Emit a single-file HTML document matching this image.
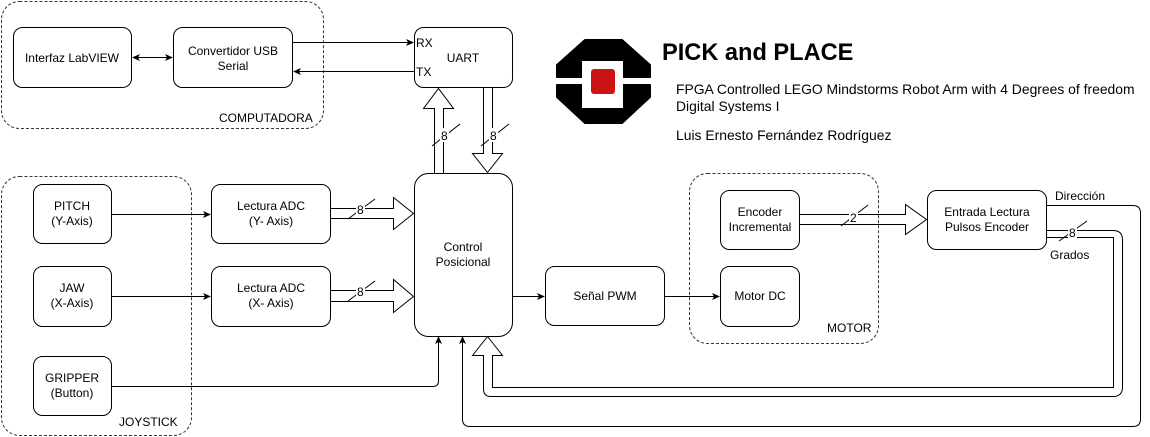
<!DOCTYPE html>
<html><head><meta charset="utf-8"><style>
html,body{margin:0;padding:0;background:#fff;}
svg{display:block;font-family:"Liberation Sans",Arial,sans-serif;}
text{font-size:12px;fill:#000;}
</style></head><body>
<svg width="1150" height="437" viewBox="0 0 1150 437" xmlns="http://www.w3.org/2000/svg">
<defs>
<marker id="a" markerWidth="8" markerHeight="8" refX="7" refY="4" orient="auto" markerUnits="userSpaceOnUse"><path d="M0,0.5 L8,4 L0,7.5 L2,4 Z" fill="#000"/></marker>
<marker id="as" markerWidth="8" markerHeight="8" refX="1" refY="4" orient="auto" markerUnits="userSpaceOnUse"><path d="M8,0.5 L0,4 L8,7.5 L6,4 Z" fill="#000"/></marker>
</defs>
<g fill="none" stroke="#000" stroke-width="1">
<rect x="1.5" y="1.5" width="322" height="127" rx="18" stroke-dasharray="3,2" stroke="#333"/>
<rect x="1.5" y="176.5" width="190" height="259" rx="18" stroke-dasharray="3,2" stroke="#333"/>
<rect x="689.5" y="173.5" width="189" height="170" rx="18" stroke-dasharray="3,2" stroke="#333"/>
<rect x="13.5" y="27.5" width="118" height="60" rx="9"/>
<rect x="173.5" y="27.5" width="119" height="60" rx="9"/>
<rect x="414.5" y="27.5" width="98" height="60" rx="9"/>
<rect x="414.5" y="173.5" width="98" height="163" rx="14"/>
<rect x="33.5" y="184.5" width="78" height="59" rx="9"/>
<rect x="33.5" y="266.5" width="78" height="60" rx="9"/>
<rect x="33.5" y="356.5" width="78" height="59" rx="9"/>
<rect x="211.5" y="184.5" width="119" height="59" rx="9"/>
<rect x="211.5" y="266.5" width="119" height="60" rx="9"/>
<rect x="545.5" y="266.5" width="119" height="59" rx="9"/>
<rect x="720.5" y="190.5" width="79" height="59" rx="9"/>
<rect x="720.5" y="266.5" width="79" height="60" rx="9"/>
<rect x="927.5" y="190.5" width="119" height="59" rx="9"/>
<line x1="133" y1="57.5" x2="172" y2="57.5" marker-end="url(#a)" marker-start="url(#as)"/>
<line x1="293" y1="42.5" x2="413" y2="42.5" marker-end="url(#a)"/>
<line x1="414" y1="71.5" x2="294" y2="71.5" marker-end="url(#a)"/>
<line x1="111" y1="214.5" x2="210" y2="214.5" marker-end="url(#a)"/>
<line x1="111" y1="296.5" x2="210" y2="296.5" marker-end="url(#a)"/>
<line x1="512" y1="296.5" x2="544" y2="296.5" marker-end="url(#a)"/>
<line x1="664" y1="296.5" x2="719" y2="296.5" marker-end="url(#a)"/>
<path d="M111,386.5 H433 Q438.5,386.5 438.5,381 V337" marker-end="url(#a)"/>
<path d="M1046,205.5 H1133 Q1140.5,205.5 1140.5,213 V419 Q1140.5,426.5 1133,426.5 H470 Q462.5,426.5 462.5,419 V337" marker-end="url(#a)"/>
<path d="M434.5,173 V108.5 H423.5 L438.5,88.5 L453.5,108.5 H443.5 V173"/>
<path d="M483.5,88 V153.5 H472.5 L487.5,172.5 L502.5,153.5 H492.5 V88"/>
<path d="M331,208.5 H393.5 V197.5 L413.5,213.5 L393.5,229.5 V218.5 H331"/>
<path d="M331,290.5 H393.5 V279.5 L413.5,296.5 L393.5,312.5 V301.5 H331"/>
<path d="M800,214.5 H905.5 V204.5 L926.5,219.5 L905.5,234.5 V224.5 H800"/>
<path d="M1046,230.5 H1113 Q1122.5,230.5 1122.5,240 V387 Q1122.5,396.5 1113,396.5 H491 Q483.5,396.5 483.5,389 V355.5 H472.5 L487.5,336.5 L502.5,355.5 H492.5 V387.5 H1113.5 V237.5 H1046"/>
<line x1="432" y1="146" x2="460" y2="124"/>
<line x1="481" y1="146" x2="509" y2="124"/>
<line x1="348" y1="219" x2="375" y2="199"/>
<line x1="348" y1="301" x2="375" y2="281"/>
<line x1="841" y1="226" x2="868" y2="205"/>
<line x1="1059" y1="241" x2="1087" y2="221"/>
</g>
<!-- label backgrounds -->
<g fill="#fff">
<rect x="440" y="128" width="9" height="14"/>
<rect x="489" y="128" width="9" height="14"/>
<rect x="356" y="203" width="9" height="13"/>
<rect x="356" y="285" width="9" height="13"/>
<rect x="849" y="209" width="9" height="14"/>
<rect x="1068" y="225" width="9" height="13"/>
</g>
<!-- logo -->
<path d="M585,40 H622 L650,65 V77 H557 V65 Z" fill="#000" stroke="#000" stroke-linejoin="round" stroke-width="2"/>
<path d="M557,85 H650 V97 L622,123 H585 L557,97 Z" fill="#000" stroke="#000" stroke-linejoin="round" stroke-width="2"/>
<rect x="582" y="61" width="41" height="47" fill="#fff"/>
<rect x="591" y="69" width="24" height="25" rx="3" fill="#cc1414"/>
<g text-anchor="middle">
<text x="72" y="62">Interfaz LabVIEW</text>
<text x="233" y="55">Convertidor USB</text><text x="233" y="70">Serial</text>
<text x="463" y="62">UART</text>
<text x="463" y="251">Control</text><text x="463" y="266">Posicional</text>
<text x="72" y="210">PITCH</text><text x="72" y="225">(Y-Axis)</text>
<text x="72" y="292">JAW</text><text x="72" y="307">(X-Axis)</text>
<text x="72" y="382">GRIPPER</text><text x="72" y="397">(Button)</text>
<text x="271" y="210">Lectura ADC</text><text x="271" y="225">(Y- Axis)</text>
<text x="271" y="292">Lectura ADC</text><text x="271" y="307">(X- Axis)</text>
<text x="605" y="300">Señal PWM</text>
<text x="760" y="216">Encoder</text><text x="760" y="231">Incremental</text>
<text x="760" y="300">Motor DC</text>
<text x="987" y="216">Entrada Lectura</text><text x="987" y="231">Pulsos Encoder</text>
</g>
<text x="416" y="47">RX</text>
<text x="416" y="76">TX</text>
<text x="219" y="122">COMPUTADORA</text>
<text x="119" y="426">JOYSTICK</text>
<text x="827" y="332">MOTOR</text>
<text x="441" y="140">8</text>
<text x="490" y="140">8</text>
<text x="357" y="214">8</text>
<text x="357" y="296">8</text>
<text x="850" y="222">2</text>
<text x="1069" y="237">8</text>
<text x="1055" y="200">Dirección</text>
<text x="1050" y="259">Grados</text>
<text x="662" y="60" style="font-size:23.6px;font-weight:bold">PICK and PLACE</text>
<text x="676" y="94" style="font-size:13.9px">FPGA Controlled LEGO Mindstorms Robot Arm with 4 Degrees of freedom</text>
<text x="676" y="111" style="font-size:13.9px">Digital Systems I</text>
<text x="676" y="140" style="font-size:13.9px">Luis Ernesto Fernández Rodríguez</text>
</svg>
</body></html>
